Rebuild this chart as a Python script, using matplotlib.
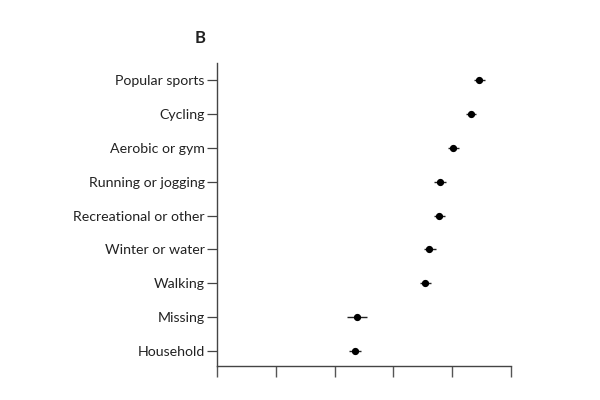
import matplotlib
matplotlib.use("Agg")
import matplotlib.pyplot as plt
import numpy as np

categories = ["Popular sports", "Cycling", "Aerobic or gym", "Running or jogging",
              "Recreational or other", "Winter or water", "Walking", "Missing", "Household"]
estimates = [0.892, 0.863, 0.804, 0.759, 0.756, 0.721, 0.709, 0.477, 0.471]
lower = [0.874, 0.846, 0.787, 0.738, 0.739, 0.703, 0.691, 0.443, 0.450]
upper = [0.912, 0.881, 0.823, 0.779, 0.776, 0.744, 0.727, 0.509, 0.491]
xticks = [0.0, 0.2, 0.4, 0.6, 0.8, 1.0]

plt.rcParams['font.family'] = ['Lato', 'DejaVu Sans']

fig = plt.figure(figsize=(6, 4), dpi=100)
ax = fig.add_axes([217/600, 1-366/400, 294/600, 303/400])

y = np.arange(len(categories))
est = np.array(estimates)
err = np.vstack([est - np.array(lower), np.array(upper) - est])
ax.errorbar(est, y, xerr=err, fmt='o', color='black', ms=4.2, elinewidth=1.0,
            ecolor='#222222', capsize=0)

ax.set_yticks(y)
ax.set_yticklabels(categories, fontsize=10.2, color='#222222')
ax.set_xticks(xticks)
ax.set_xticklabels([])
ax.set_xlim(0, 1.0)
ax.set_ylim(len(categories) - 1 + 0.44, -0.5)

for s in ['top', 'right']:
    ax.spines[s].set_visible(False)
for s in ['left', 'bottom']:
    ax.spines[s].set_color('#444444')
    ax.spines[s].set_linewidth(1.0)
ax.tick_params(axis='y', length=7, width=0.9, color='#444444', pad=2)
ax.tick_params(axis='x', length=8, width=1.0, color='#555555')

fig.text(200/600, 1-38/400, "B", fontsize=12, fontweight='bold', ha='center', va='center', color='#222222')

fig.savefig("out.png", dpi=100, facecolor='white')
